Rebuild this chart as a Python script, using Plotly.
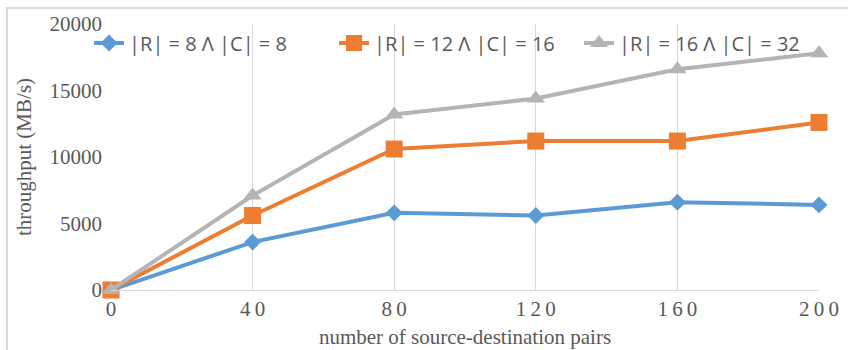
import plotly.graph_objects as go

# number of source-destination pairs
pairs = [0, 40, 80, 120, 160, 200]
pair_labels = ["0", "4\u20090", "8\u20090", "1\u20092\u20090", "1\u20096\u20090", "2\u20090\u20090"]

# throughput (MB/s) for each configuration
thr_8_8 = [0, 3600, 5800, 5600, 6600, 6400]
thr_12_16 = [0, 5600, 10600, 11200, 11200, 12600]
thr_16_32 = [0, 7100, 13200, 14400, 16600, 17800]

y_ticks = [0, 5000, 10000, 15000, 20000]

series = [
    ("|R| = 8 Λ |C| = 8", thr_8_8, "#5B9BD5", "diamond", 13),
    ("|R| = 12 Λ |C| = 16", thr_12_16, "#ED7D31", "square", 17),
    ("|R| = 16 Λ |C| = 32", thr_16_32, "#B4B4B4", "triangle-up", 16),
]

fig = go.Figure()
for name, vals, color, sym, size in series:
    fig.add_trace(go.Scatter(
        x=pairs, y=vals, name=name, mode="lines+markers",
        line=dict(color=color, width=4),
        marker=dict(symbol=sym, size=size, color=color),
        cliponaxis=False,
    ))

serif = "Liberation Serif, Times New Roman, serif"
grey_text = "#595959"

fig.update_layout(
    width=848, height=350,
    margin=dict(l=111, r=29, t=24, b=60),
    paper_bgcolor="white", plot_bgcolor="white",
    showlegend=True,
    legend=dict(
        orientation="h", x=-0.031, y=1.002, xanchor="left", yanchor="top",
        bgcolor="rgba(0,0,0,0)",
        font=dict(family="Open Sans, Noto Sans, sans-serif", size=20, color=grey_text),
        itemwidth=30, tracegroupgap=0,
        entrywidth=200, entrywidthmode="pixels",
    ),
    xaxis=dict(
        range=[0, 200], tickvals=pairs, ticktext=pair_labels,
        showgrid=True, gridcolor="#D9D9D9", gridwidth=1,
        showline=True, linecolor="#D9D9D9", linewidth=1,
        zeroline=False, ticks="", automargin=False,
        tickfont=dict(family=serif, size=21, color=grey_text),
        title=dict(text="number of source-destination pairs",
                   font=dict(family=serif, size=21, color=grey_text), standoff=9),
    ),
    yaxis=dict(
        range=[0, 20000], tickvals=y_ticks, tickformat="d",
        showgrid=False, zeroline=False, showline=False, ticks="", automargin=False,
        ticklabelstandoff=8,
        tickfont=dict(family=serif, size=21, color=grey_text),
        title=dict(text="throughput (MB/s)",
                   font=dict(family=serif, size=21, color=grey_text), standoff=12),
    ),
    shapes=[dict(
        type="rect", xref="paper", yref="paper",
        x0=-0.147, x1=1.2, y0=-0.5, y1=1.06,
        line=dict(color="#D9D9D9", width=2), fillcolor="rgba(0,0,0,0)", layer="below",
    )],
)

fig.write_html("out.html")
